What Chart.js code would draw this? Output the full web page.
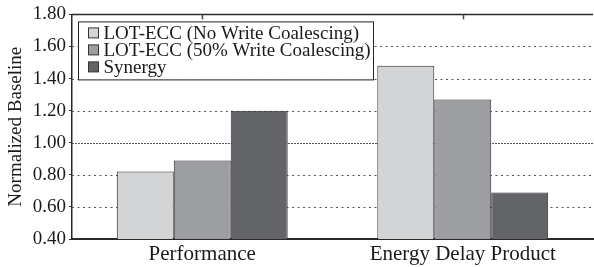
<!DOCTYPE html>
<html>
<head>
<meta charset="utf-8">
<script src="https://cdn.jsdelivr.net/npm/chart.js@4/dist/chart.umd.min.js"></script>
<style>
  html, body { margin: 0; padding: 0; background: #fff; }
  #wrap { width: 594px; height: 267px; position: relative; }
</style>
</head>
<body>
<div id="wrap"><canvas id="c" width="594" height="267"></canvas></div>
<script>
const categories = ['Performance', 'Energy Delay Product'];
const seriesLabels = ['LOT-ECC (No Write Coalescing)', 'LOT-ECC (50% Write Coalescing)', 'Synergy'];
const noCoalescing = [0.82, 1.48];
const halfCoalescing = [0.89, 1.27];
const synergy = [1.20, 0.69];
const yTickValues = [0.40, 0.60, 0.80, 1.00, 1.20, 1.40, 1.60, 1.80];
const yTitle = 'Normalized Baseline';

const SERIF = '"Liberation Serif", "Times New Roman", serif';
const colors = ['#d3d4d6', '#9d9ea1', '#636467'];

const gridPlugin = {
  id: 'customGrid',
  beforeDatasetsDraw(chart) {
    const { ctx, chartArea } = chart;
    const y = chart.scales.y;
    const x = chart.scales.x;
    ctx.save();
    yTickValues.forEach(v => {
      if (v <= y.min + 1e-9) return;
      const py = Math.round(y.getPixelForValue(v)) + 0.5;
      ctx.beginPath();
      if (v >= y.max - 1e-9) {
        ctx.setLineDash([]);
        ctx.strokeStyle = '#2a2a2a';
        ctx.lineWidth = 1.5;
      } else if (Math.abs(v - 1.0) < 1e-9) {
        ctx.setLineDash([2, 1]);
        ctx.strokeStyle = '#555';
        ctx.lineWidth = 1;
      } else {
        ctx.setLineDash([2, 3.5]);
        ctx.strokeStyle = '#555';
        ctx.lineWidth = 1;
      }
      ctx.moveTo(chartArea.left, py);
      ctx.lineTo(chartArea.right, py);
      ctx.stroke();
    });
    ctx.setLineDash([]);
    ctx.strokeStyle = '#444';
    ctx.lineWidth = 1.5;
    categories.forEach((c, i) => {
      const px = Math.round(x.getPixelForValue(i)) + 0.5;
      ctx.beginPath();
      ctx.moveTo(px, chartArea.top);
      ctx.lineTo(px, chartArea.top + 5);
      ctx.stroke();
    });
    ctx.restore();
  }
};

const legendPlugin = {
  id: 'boxLegend',
  afterDatasetsDraw(chart) {
    const { ctx, chartArea } = chart;
    const bx = chartArea.left + 6.5, by = chartArea.top + 7.5;
    const bw = 295, bh = 58;
    ctx.save();
    ctx.fillStyle = '#fff';
    ctx.fillRect(bx, by, bw, bh);
    ctx.strokeStyle = '#222';
    ctx.lineWidth = 1;
    ctx.strokeRect(bx, by, bw, bh);
    ctx.font = '19px ' + SERIF;
    ctx.textBaseline = 'middle';
    chart.data.datasets.forEach((ds, i) => {
      const cy = by + 11 + i * 17;
      ctx.fillStyle = ds.backgroundColor;
      ctx.fillRect(bx + 10, cy - 5, 10, 10);
      ctx.strokeStyle = '#333';
      ctx.strokeRect(bx + 10, cy - 5, 10, 10);
      ctx.fillStyle = '#1a1a1a';
      ctx.fillText(ds.label, bx + 25, cy + 1);
    });
    ctx.restore();
  }
};

new Chart(document.getElementById('c'), {
  type: 'bar',
  data: {
    labels: categories,
    datasets: [
      { label: seriesLabels[0], data: noCoalescing, backgroundColor: colors[0] },
      { label: seriesLabels[1], data: halfCoalescing, backgroundColor: colors[1] },
      { label: seriesLabels[2], data: synergy, backgroundColor: colors[2] }
    ]
  },
  options: {
    responsive: false,
    animation: false,
    devicePixelRatio: 1,
    layout: { padding: { top: 12, right: 1, left: 0, bottom: 0 } },
    datasets: {
      bar: {
        categoryPercentage: 0.656,
        barPercentage: 1,
        borderColor: '#2b2b2b',
        borderWidth: 1
      }
    },
    plugins: {
      legend: { display: false },
      tooltip: { enabled: false }
    },
    scales: {
      x: {
        type: 'category',
        position: 'bottom',
        grid: { display: false, drawTicks: false },
        border: { display: true, color: '#2a2a2a', width: 2 },
        ticks: { font: { family: SERIF, size: 21 }, color: '#1a1a1a', padding: 3 },
        afterFit(scale) { scale.height = 28; }
      },
      y: {
        min: 0.4,
        max: 1.8,
        afterBuildTicks(scale) { scale.ticks = yTickValues.map(v => ({ value: v })); },
        ticks: {
          font: { family: SERIF, size: 19 },
          color: '#1a1a1a',
          padding: 3,
          callback: v => Number(v).toFixed(2)
        },
        grid: { drawOnChartArea: false, drawTicks: true, tickLength: 3, color: '#333' },
        border: { display: true, color: '#2a2a2a', width: 1.5 },
        title: {
          display: true,
          text: yTitle,
          font: { family: SERIF, size: 19 },
          color: '#1a1a1a',
          padding: { top: 5, bottom: 0 }
        },
        afterFit(scale) { scale.width = 72; }
      }
    }
  },
  plugins: [gridPlugin, legendPlugin]
});
</script>
</body>
</html>
